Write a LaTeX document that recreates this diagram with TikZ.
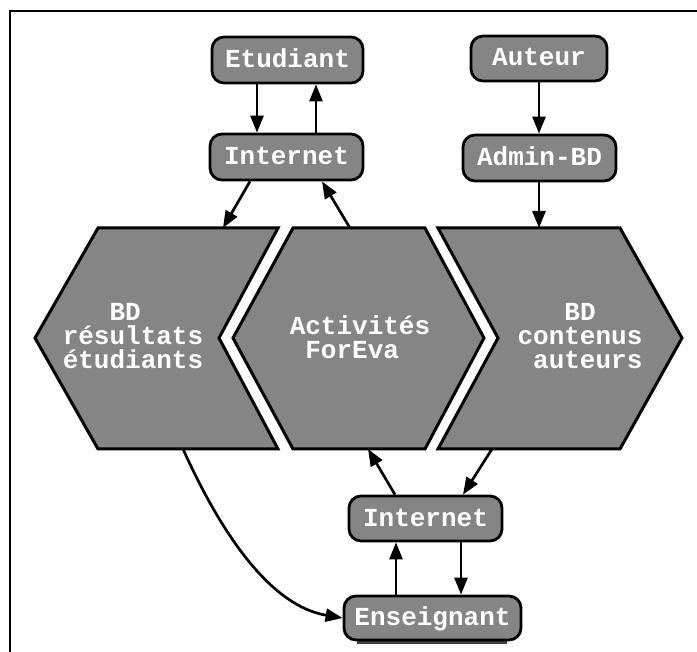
\documentclass[tikz,border=0pt]{standalone}
\usepackage{fontspec}
\newfontfamily\diagfont{Liberation Mono}
\usetikzlibrary{arrows.meta}
\definecolor{boxgray}{RGB}{133,133,133}
\begin{document}
\begin{tikzpicture}[x=1pt,y=-1pt,
  lbl/.style={text=white, font=\diagfont\bfseries\fontsize{26}{24}\selectfont},
  box/.style={lbl, draw=black, line width=2.8pt, fill=boxgray, rounded corners=12pt,
    inner sep=0pt, text height=15pt, text depth=0pt, minimum height=46pt},
  hexa/.style={draw=black, line width=3pt, fill=boxgray, line join=miter},
  hextext/.style={lbl, align=center, inner sep=0pt},
  arr/.style={line width=2.7pt, -{Triangle[length=17pt,width=13pt]}},
  frame/.style={line width=1.5pt}
]
\useasboundingbox (0,0) rectangle (697,652);
\fill[white] (0,0) rectangle (697,652);
\draw[frame] (10,652) -- (10,11) -- (697,11);

% hexagonal shapes
\draw[hexa] (98,228) -- (278,228) -- (219,338) -- (278,449) -- (98,449) -- (35,338) -- cycle;
\draw[hexa] (293,228) -- (425,228) -- (484,338) -- (425,449) -- (293,449) -- (233,338) -- cycle;
\draw[hexa] (438,228) -- (620,228) -- (682,338) -- (620,449) -- (438,449) -- (498,338) -- cycle;

\node[hextext] (res) at (133,336) {BD\phantom{x}\\résultats\\étudiants};
\node[hextext] (act) at (360,337) {Activités\\ForEva\phantom{x}};
\node[hextext] (con) at (580,336) {BD\\contenus\\\phantom{x}auteurs};

\coordinate (resTop) at (223,228);
\coordinate (actTop) at (350,228);
\coordinate (conTop) at (539,228);
\coordinate (resBot) at (183,449);
\coordinate (actBot) at (368,449);
\coordinate (conBot) at (492,449);

% rounded boxes
\node[box, minimum width=151pt] (etu) at (287.5,60) {Etudiant};
\node[box, minimum width=153pt] (int1) at (286.5,157) {Internet};
\node[box, minimum width=136pt, minimum height=45pt] (aut) at (539,58.5) {Auteur};
\node[box, minimum width=153pt] (adm) at (539.5,158) {Admin-BD};
\node[box, minimum width=153pt, minimum height=45pt] (int2) at (425.5,518.5) {Internet};
\fill[black!75] (357,639) rectangle (507,644);
\node[box, minimum width=177pt, minimum height=44pt] (ens) at (432.5,618) {Enseignant};

% connectors
\draw[arr] (257,0 |- etu.south) -- (257,0 |- int1.north);
\draw[arr] (316,0 |- int1.north) -- (316,0 |- etu.south);
\draw[arr] (250,0 |- int1.south) -- (resTop);
\draw[arr] (actTop) -- (322,0 |- int1.south);
\draw[arr] (aut.south) -- (aut.south |- adm.north);
\draw[arr] (aut.south |- adm.south) -- (conTop);
\draw[arr] (395,0 |- int2.north) -- (actBot);
\draw[arr] (conBot) -- (463,0 |- int2.north);
\draw[arr] (396,0 |- ens.north) -- (396,0 |- int2.south);
\draw[arr] (461,0 |- int2.south) -- (461,0 |- ens.north);
\draw[arr] (resBot) .. controls (215,520) and (265,605) .. (ens.west);
\end{tikzpicture}
\end{document}
